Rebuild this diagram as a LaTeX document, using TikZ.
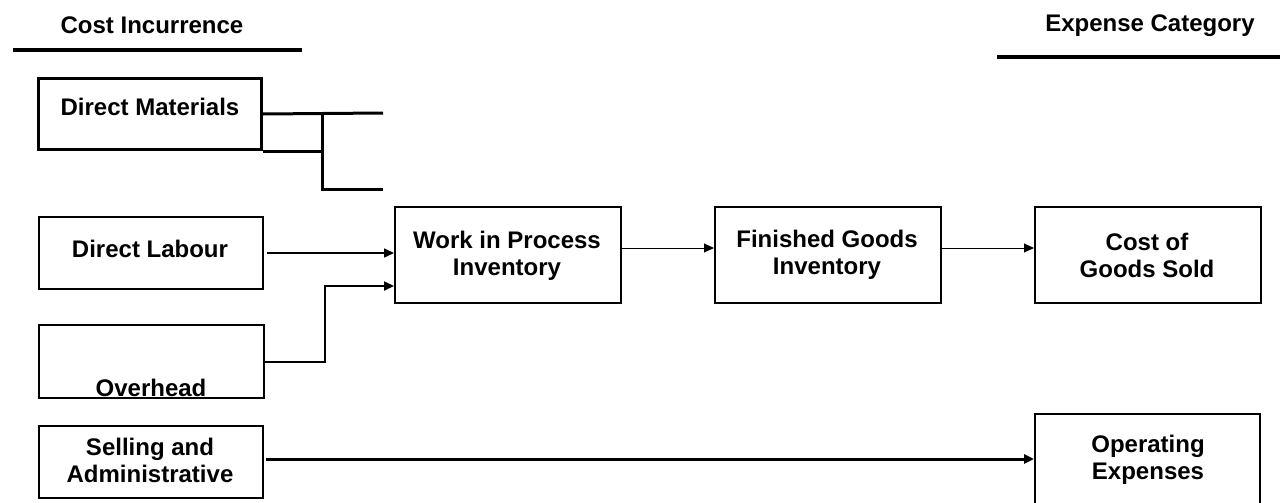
\documentclass[tikz,border=0pt]{standalone}
\usepackage{fontspec}
\setmainfont{Liberation Sans}
\usetikzlibrary{arrows.meta}
\begin{document}
\begin{tikzpicture}[x=1pt,y=-1pt,
  box/.style={draw, line width=2pt, inner sep=0pt, anchor=north west},
  lbl/.style={font=\fontsize{24}{27}\selectfont\bfseries, align=center, inner sep=0pt},
  rule/.style={line width=4pt},
  conn/.style={line width=3pt},
  arr/.style={-{Triangle[length=10pt,width=9pt]}}]
\useasboundingbox (0,0) rectangle (1280,503);

% titles
\node[lbl] (t1) at (152,25) {Cost Incurrence};
\node[lbl] (t2) at (1150,26) {Expense Category};
\coordinate (r1a) at (13,50);  \coordinate (r1b) at (302,50);
\coordinate (r2a) at (997,57); \coordinate (r2b) at (1282,57);
\draw[rule] (r1a) -- (r1b);
\draw[rule] (r2a) -- (r2b);

% boxes
\node[box, line width=3pt, minimum width=223pt, minimum height=71pt] (dm) at (37,77) {};
\node[box, minimum width=224pt, minimum height=72pt] (dl) at (38,216) {};
\node[box, minimum width=225pt, minimum height=73pt] (oh) at (38,324) {};
\node[box, minimum width=224pt, minimum height=72pt] (sa) at (38,425) {};
\node[box, minimum width=226pt, minimum height=96pt] (wip) at (394,206) {};
\node[box, minimum width=226pt, minimum height=96pt] (fg) at (714,206) {};
\node[box, minimum width=226pt, minimum height=96pt] (cogs) at (1034,206) {};
\node[box, minimum width=225pt, minimum height=96pt] (opex) at (1034,413) {};

% texts
\node[lbl] (dmt) at (150,107) {Direct Materials};
\node[lbl] (dlt) at (150,249) {Direct Labour};
\node[lbl] (oht) at (151,388) {Overhead};
\node[lbl] (sat) at (150,460) {Selling and\\Administrative};
\node[lbl] (wipt) at (507,256) {Work in Process\\Inventory};
\node[lbl] (fgt) at (827,255) {Finished Goods\\Inventory};
\node[lbl] (cogst) at (1147,255) {Cost of\\Goods Sold};
\node[lbl] (opext) at (1148,460) {Operating\\Expenses};

% direct materials branches
\coordinate (dmA) at (383,113);
\coordinate (dmJ) at (322,113);
\coordinate (dmB) at (383,189);
\draw[conn] (dm.east) -- (dmA);
\draw[conn] (dm.south east) -- (dm.south east -| dmJ);
\draw[conn] (dmJ) |- (dmB);

% direct labour
\draw[arr, line width=1.6pt, shorten <=3pt] (dl.east) -- (wip.west |- dl.east);

% overhead
\coordinate (ohK) at (325,286);
\draw[arr, line width=2pt] (oh.east) -| (ohK) -- (wip.west |- ohK);

% flow
\draw[arr, line width=1pt] ([yshift=7pt]wip.east) -- ([yshift=7pt]fg.west);
\draw[arr, line width=1pt] ([yshift=7pt]fg.east) -- ([yshift=7pt]cogs.west);

% selling
\draw[arr, conn, shorten <=2pt] ([yshift=3pt]sa.east) -- ([yshift=3pt]sa.east -| opex.west);
\end{tikzpicture}
\end{document}
